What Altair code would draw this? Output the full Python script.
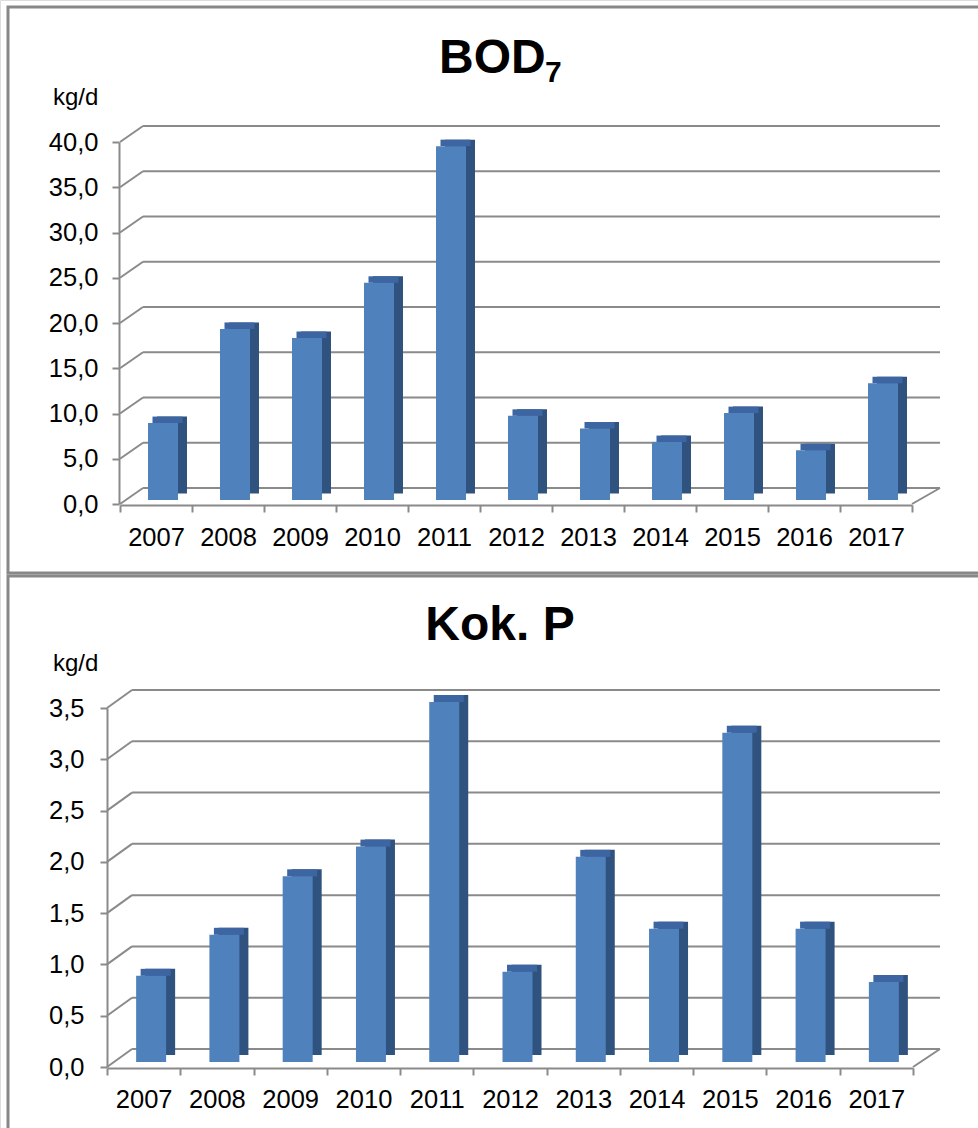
import altair as alt
import pandas as pd

# ---------------- data ----------------
YEARS = ["2007", "2008", "2009", "2010", "2011", "2012", "2013", "2014", "2015", "2016", "2017"]
BOD7 = [8.5, 18.9, 17.9, 24.0, 39.1, 9.3, 7.9, 6.4, 9.6, 5.5, 12.9]
KOK_P = [0.84, 1.24, 1.81, 2.10, 3.51, 0.88, 2.00, 1.30, 3.21, 1.30, 0.78]
BOD7_TICKS = [0, 5, 10, 15, 20, 25, 30, 35, 40]
KOKP_TICKS = [0, 0.5, 1.0, 1.5, 2.0, 2.5, 3.0, 3.5]
UNIT = "kg/d"

# ---------------- style ----------------
FONT = "Liberation Sans"
GRID = "#8a8a8a"
FRONT = "#4f81bd"
SIDE = "#30527f"
TOPC = "#3c65a1"
BORDER = "#888888"
W, H = 978, 1128
BACK_RIGHT = 940
LABEL_EXPR = "replace(format(datum.value, '.1f'), '.', ',')"


def panel(values, ticks, y_dom, y_rng, x_rng, back_dx, back_dy, base_dy, face_dx,
          side_dx, top_dy, box, x_axis_off, y_axis_off, x_lab_pad, y_lab_pad, unit_xy):
    ys = alt.Scale(domain=y_dom, range=y_rng, nice=False, zero=True)
    xs = alt.Scale(domain=YEARS, range=x_rng, paddingInner=0, paddingOuter=0)
    bars = pd.DataFrame({"year": YEARS, "v": values})
    tk = pd.DataFrame({"t": ticks})
    one = pd.DataFrame({"t": [0]})
    L = []
    # panel border
    L.append(alt.Chart(one).mark_rect(filled=False, stroke=BORDER, strokeWidth=3).encode(
        x=alt.value(box[0]), x2=alt.value(box[1]), y=alt.value(box[2]), y2=alt.value(box[3])))
    # back wall gridlines
    L.append(alt.Chart(tk).mark_rule(color=GRID, strokeWidth=2, yOffset=back_dy).encode(
        y=alt.Y("t:Q", scale=ys, axis=None),
        x=alt.value(x_rng[0] + back_dx), x2=alt.value(BACK_RIGHT)))
    # side wall diagonals
    L.append(alt.Chart(tk).mark_rule(color=GRID, strokeWidth=2, y2Offset=back_dy).encode(
        y=alt.Y("t:Q", scale=ys, axis=None), y2=alt.Y2("t"),
        x=alt.value(x_rng[0]), x2=alt.value(x_rng[0] + back_dx)))
    # floor right edge
    L.append(alt.Chart(one).mark_rule(color=GRID, strokeWidth=2, y2Offset=back_dy).encode(
        y=alt.Y("t:Q", scale=ys, axis=None), y2=alt.Y2("t"),
        x=alt.value(x_rng[1]), x2=alt.value(BACK_RIGHT)))
    # bar side (dark, shifted back)
    L.append(alt.Chart(bars).mark_bar(color=SIDE, size=30, xOffset=face_dx + side_dx,
                                      yOffset=base_dy + top_dy, y2Offset=base_dy + top_dy).encode(
        x=alt.X("year:N", scale=xs, axis=None),
        y=alt.Y("v:Q", scale=ys, axis=None)))
    # bar top face
    L.append(alt.Chart(bars).mark_bar(color=TOPC, size=30, xOffset=face_dx + side_dx / 2,
                                      yOffset=base_dy + top_dy, y2Offset=base_dy).encode(
        x=alt.X("year:N", scale=xs, axis=None),
        y=alt.Y("v:Q", scale=ys, axis=None), y2=alt.Y2("v")))
    # bar front face, with axes
    L.append(alt.Chart(bars).mark_bar(color=FRONT, size=30, xOffset=face_dx,
                                      yOffset=base_dy, y2Offset=base_dy).encode(
        x=alt.X("year:N", scale=xs, axis=alt.Axis(
            orient="bottom", offset=x_axis_off, tickBand="extent", title=None,
            domainColor=GRID, domainWidth=2, tickColor=GRID, tickWidth=2, tickSize=7,
            labelFont=FONT, labelFontSize=25.5, labelColor="black", labelPadding=x_lab_pad,
            labelAngle=0, grid=False, labelOverlap=False)),
        y=alt.Y("v:Q", scale=ys, axis=alt.Axis(
            orient="left", offset=y_axis_off, values=ticks, labelExpr=LABEL_EXPR, title=None,
            domainColor=GRID, domainWidth=2, tickColor=GRID, tickWidth=2, tickSize=7,
            labelFont=FONT, labelFontSize=25.5, labelColor="black", labelPadding=y_lab_pad,
            grid=False, labelOverlap=False, labelFlush=False))))
    # unit label
    L.append(alt.Chart(one).mark_text(text=UNIT, font=FONT, fontSize=24, align="left",
                                      baseline="alphabetic", color="black").encode(
        x=alt.value(unit_xy[0]), y=alt.value(unit_xy[1])))
    return L


top = panel(BOD7, BOD7_TICKS, [0, 40], [504, 142], [120, 912], 23, -16, -4, 7, 9, -6.5,
            (8, 1010, 7, 573), -623, -119, 13, 14, (53, 105))
bottom = panel(KOK_P, KOKP_TICKS, [0, 3.5], [1067, 708], [107, 913], 25, -18, -5, 7.5, 9, -7,
               (8, 1010, 576, 1160), -60, -107, 12, 16, (53, 671))

one = pd.DataFrame({"t": [0]})
titles = [
    alt.Chart(one).mark_text(text="BOD", font=FONT, fontSize=48, fontWeight="bold",
                             align="left", baseline="alphabetic", color="black").encode(
        x=alt.value(439), y=alt.value(73)),
    alt.Chart(one).mark_text(text="7", font=FONT, fontSize=30, fontWeight="bold",
                             align="left", baseline="alphabetic", color="black").encode(
        x=alt.value(545), y=alt.value(82)),
    alt.Chart(one).mark_text(text="Kok. P", font=FONT, fontSize=48, fontWeight="bold",
                             align="center", baseline="alphabetic", color="black").encode(
        x=alt.value(500), y=alt.value(640)),
]

chart = alt.layer(*top, *bottom, *titles).resolve_scale(
    x="independent", y="independent"
).properties(
    width=W, height=H, padding=0, autosize=alt.AutoSizeParams(type="none")
).configure_view(stroke=None).configure(background="white")

chart.save("out.html", embed_options={"renderer": "svg", "actions": False})
